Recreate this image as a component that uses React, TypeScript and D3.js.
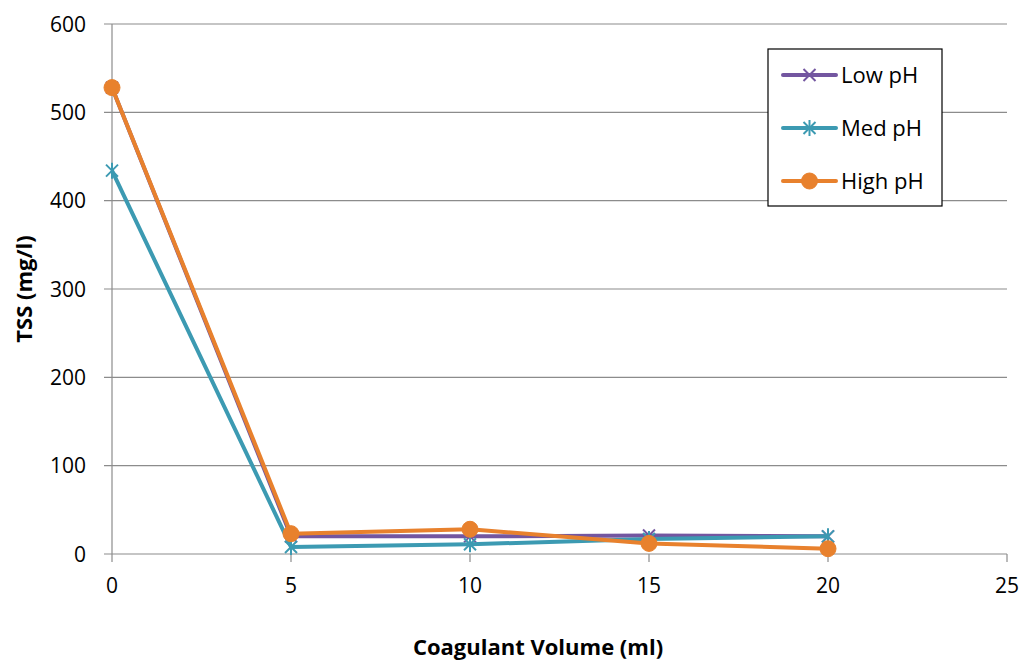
import React from "react";
import * as d3 from "d3";

const volumes = [0, 5, 10, 15, 20];
const lowPH = [528, 20, 20, 21, 20];
const medPH = [434, 8, 11, 17, 20];
const highPH = [528, 23, 28, 12, 6];
const xTicks = [0, 5, 10, 15, 20, 25];
const yTicks = [0, 100, 200, 300, 400, 500, 600];

const seriesList = [
  { name: "Low pH", values: lowPH, color: "#7356A0", marker: "x" },
  { name: "Med pH", values: medPH, color: "#3C9AB2", marker: "star" },
  { name: "High pH", values: highPH, color: "#E8812D", marker: "circle" },
];

const W = 1024;
const H = 661;
const FONT = "'Open Sans', Lato, sans-serif";

function Marker({ type, x, y, color }: { type: string; x: number; y: number; color: string }) {
  const s = 6;
  if (type === "circle") {
    return <circle cx={x} cy={y} r={8} fill={color} stroke={color} strokeWidth={1} />;
  }
  const xs = (
    <>
      <line x1={x - s} y1={y - s} x2={x + s} y2={y + s} stroke={color} strokeWidth={2} />
      <line x1={x - s} y1={y + s} x2={x + s} y2={y - s} stroke={color} strokeWidth={2} />
    </>
  );
  if (type === "x") return <g>{xs}</g>;
  return (
    <g>
      {xs}
      <line x1={x} y1={y - s - 2} x2={x} y2={y + s + 2} stroke={color} strokeWidth={2} />
    </g>
  );
}

export default function App() {
  const x = d3.scaleLinear().domain([0, 25]).range([112, 1007]);
  const y = d3.scaleLinear().domain([0, 600]).range([554, 24]);
  const line = d3
    .line<number>()
    .x((_, i) => x(volumes[i]))
    .y((d) => y(d));

  return (
    <svg width={W} height={H} style={{ position: "absolute", left: 0, top: 0 }} fontFamily={FONT}>
      <rect width={W} height={H} fill="#fff" />
      {/* horizontal gridlines */}
      {yTicks.map((t) => (
        <line key={t} x1={x(0) - 8} x2={x(25)} y1={y(t)} y2={y(t)} stroke="#8c8c8c" strokeWidth={1.2} />
      ))}
      {/* y axis */}
      <line x1={x(0)} x2={x(0)} y1={y(600)} y2={y(0)} stroke="#8c8c8c" strokeWidth={1.2} />
      {/* x tick marks */}
      {xTicks.map((t) => (
        <line key={t} x1={x(t)} x2={x(t)} y1={y(0)} y2={y(0) + 8} stroke="#8c8c8c" strokeWidth={1.2} />
      ))}
      {yTicks.map((t) => (
        <text key={t} x={x(0) - 26} y={y(t)} dy="0.36em" textAnchor="end" fontSize={21} fill="#000">
          {t}
        </text>
      ))}
      {xTicks.map((t) => (
        <text key={t} x={x(t)} y={y(0) + 39} textAnchor="middle" fontSize={21} fill="#000">
          {t}
        </text>
      ))}
      <text
        transform={`translate(32,${y(300)}) rotate(-90)`}
        textAnchor="middle"
        fontSize={22}
        fontWeight="bold"
      >
        TSS (mg/l)
      </text>
      <text x={538} y={655} textAnchor="middle" fontSize={22} fontWeight="bold">
        Coagulant Volume (ml)
      </text>
      {/* series */}
      {seriesList.map((s) => (
        <g key={s.name}>
          <path d={line(s.values) || ""} fill="none" stroke={s.color} strokeWidth={4} strokeLinejoin="round" />
          {s.values.map((v, i) => (
            <Marker key={i} type={s.marker} x={x(volumes[i])} y={y(v)} color={s.color} />
          ))}
        </g>
      ))}
      {/* legend */}
      <rect x={768} y={49} width={174} height={157} fill="#fff" stroke="#000" strokeWidth={1.2} />
      {seriesList.map((s, i) => {
        const ly = 75 + i * 53;
        return (
          <g key={s.name}>
            <line x1={783} x2={836} y1={ly} y2={ly} stroke={s.color} strokeWidth={4} strokeLinecap="round" />
            <Marker type={s.marker} x={809.5} y={ly} color={s.color} />
            <text x={841} y={ly} dy="0.36em" fontSize={22}>
              {s.name}
            </text>
          </g>
        );
      })}
    </svg>
  );
}
